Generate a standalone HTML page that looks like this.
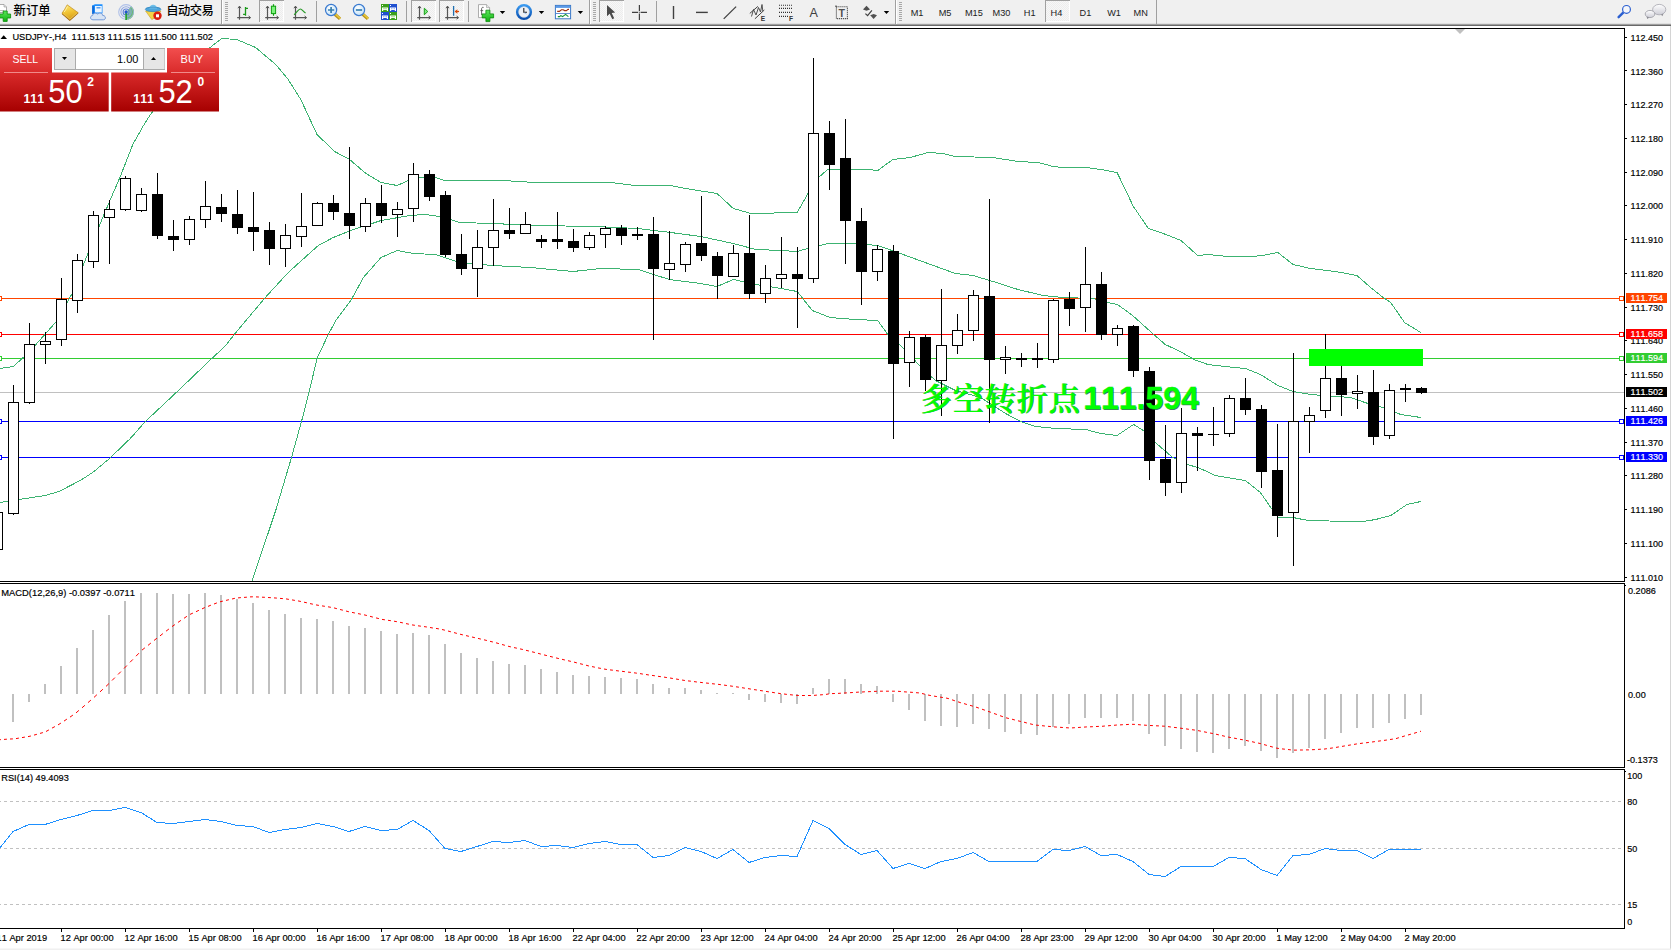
<!DOCTYPE html>
<html><head><meta charset="utf-8"><title>USDJPY-,H4</title>
<style>
html,body{margin:0;padding:0;background:#fff;overflow:hidden}
body{width:1671px;height:950px;position:relative;font-family:"Liberation Sans","Noto Sans CJK SC",sans-serif}
svg{position:absolute;left:0;top:0;display:block}
text{white-space:pre;font-kerning:none}
</style></head><body>
<svg width="1671" height="950" viewBox="0 0 1671 950" font-family="Liberation Sans, Noto Sans CJK SC, sans-serif">
<rect x="0" y="0" width="1671" height="950" fill="#fff"/>
<g id="chart"><g shape-rendering="crispEdges"><rect x="0" y="28" width="1625" height="1" fill="#000" /><rect x="1624" y="28" width="1" height="554" fill="#000" /><rect x="1624" y="583" width="1" height="185" fill="#000" /><rect x="1624" y="769" width="1" height="160" fill="#000" /><rect x="1625" y="585" width="1" height="1" fill="#000" /><rect x="1625" y="771" width="1" height="1" fill="#000" /><rect x="0" y="581" width="1625" height="1" fill="#000" /><rect x="0" y="583" width="1625" height="1" fill="#000" /><rect x="0" y="767" width="1625" height="1" fill="#000" /><rect x="0" y="769" width="1625" height="1" fill="#000" /><rect x="0" y="928" width="1625" height="1" fill="#000" /></g><defs><clipPath id="cm"><rect x="0" y="29" width="1624" height="552"/></clipPath><clipPath id="cmacd"><rect x="0" y="584" width="1624" height="183"/></clipPath></defs><g shape-rendering="crispEdges"><rect x="0" y="392" width="1624" height="1" fill="#C0C0C0" /><rect x="0" y="298" width="1624" height="1" fill="#FF4500" /><rect x="0" y="334" width="1624" height="1" fill="#FF0000" /><rect x="0" y="358" width="1624" height="1" fill="#32CD32" /><rect x="0" y="421" width="1624" height="1" fill="#0000FF" /><rect x="0" y="457" width="1624" height="1" fill="#0000FF" /></g><g clip-path="url(#cm)"><polyline points="-3.0,369.5 0.0,368.5 13.3,366.5 24.3,356.5 35.0,345.5 56.4,321.5 72.7,292.5 82.7,266.5 99.0,226.5 109.5,201.5 120.3,176.5 132.8,144.5 142.9,126.5 150.4,114.5 170.0,88.5 190.0,65.5 212.5,45.5 221.8,38.5 236.8,39.5 255.6,47.5 275.7,64.5 288.2,79.5 300.8,99.5 317.0,134.5 334.6,151.5 349.6,159.5 365.9,173.5 381.0,182.5 397.2,185.5 408.5,180.5 420.0,177.5 435.0,177.5 445.0,180.5 468.9,180.5 502.7,180.5 535.3,182.5 610.5,182.5 635.6,185.5 670.7,185.5 685.7,188.5 717.0,193.5 733.3,208.5 750.9,213.5 797.2,212.5 808.5,192.5 818.5,177.5 827.6,169.5 867.7,169.5 877.7,170.5 892.8,159.5 910.3,157.5 927.9,152.5 942.9,153.5 955.4,156.5 993.0,157.5 1018.1,161.5 1038.1,162.5 1053.2,166.5 1063.2,167.5 1087.0,167.5 1100.8,169.5 1117.1,172.5 1133.4,206.5 1148.4,228.5 1166.0,234.5 1181.0,240.5 1197.7,255.5 1207.8,254.5 1227.8,256.5 1250.4,256.5 1262.9,255.5 1277.9,252.5 1293.0,264.5 1310.5,268.5 1335.6,271.5 1356.9,275.5 1370.7,287.5 1383.2,297.5 1390.7,302.5 1404.5,322.5 1420.8,332.5" fill="none" stroke="#3CB371" stroke-width="1" shape-rendering="crispEdges"/><polyline points="-3.0,503.5 0.0,502.5 18.8,499.5 45.1,495.5 58.9,491.5 80.2,480.5 92.7,472.5 109.5,458.5 130.3,438.5 145.4,421.5 180.5,388.5 211.8,358.5 224.8,346.5 234.3,334.5 264.4,298.5 288.2,272.5 318.3,245.5 333.3,237.5 350.9,230.5 365.9,225.5 381.0,220.5 398.5,217.5 410.0,215.5 425.0,214.5 440.0,216.5 460.0,222.5 492.7,223.5 535.3,225.5 595.5,226.5 638.0,228.5 670.7,232.5 700.7,236.5 733.3,243.5 755.9,249.5 780.9,250.5 797.2,251.5 807.6,248.5 827.6,243.5 854.0,243.5 877.7,245.5 900.3,253.5 927.9,263.5 955.4,273.5 973.0,275.5 993.0,281.5 1018.0,289.5 1043.0,295.5 1063.2,297.5 1093.3,298.5 1107.5,302.5 1117.5,304.5 1132.6,315.5 1152.6,333.5 1165.2,344.5 1180.2,351.5 1194.0,359.5 1207.8,364.5 1225.3,366.5 1245.4,368.5 1260.4,374.5 1277.9,385.5 1293.0,391.5 1310.5,394.5 1350.6,397.5 1370.7,404.5 1383.2,407.5 1400.8,414.5 1420.8,417.5" fill="none" stroke="#3CB371" stroke-width="1" shape-rendering="crispEdges"/><polyline points="251.9,581.5 275.7,510.5 291.5,457.5 301.5,421.5 309.5,390.5 317.0,358.5 328.3,334.5 335.8,320.5 350.9,300.5 363.4,277.5 381.0,257.5 397.2,250.5 413.5,253.5 435.0,254.5 460.0,262.5 492.7,265.5 530.3,267.5 573.0,271.5 600.5,268.5 638.0,269.5 669.4,279.5 700.7,283.5 717.0,286.5 733.3,279.5 755.9,284.5 780.9,288.5 797.2,291.5 812.3,310.5 830.1,317.5 855.2,319.5 877.7,320.5 887.8,334.5 902.8,347.5 920.4,366.5 935.4,380.5 955.4,390.5 980.5,397.5 1005.6,413.5 1020.6,421.5 1035.6,426.5 1055.7,428.5 1085.8,429.5 1100.8,433.5 1117.1,435.5 1133.6,424.5 1145.1,431.5 1157.6,444.5 1172.7,457.5 1187.7,464.5 1200.3,468.5 1215.3,475.5 1245.4,480.5 1260.4,492.5 1272.9,510.5 1277.9,517.5 1293.0,517.5 1308.0,520.5 1350.6,521.5 1363.2,521.5 1375.7,519.5 1390.7,515.5 1407.0,504.5 1420.8,501.5" fill="none" stroke="#3CB371" stroke-width="1" shape-rendering="crispEdges"/></g><g shape-rendering="crispEdges" clip-path="url(#cm)"><rect x="-8" y="512" width="11" height="38" fill="#000" /><rect x="-7" y="513" width="9" height="36" fill="#fff" /><rect x="13" y="385" width="1" height="130" fill="#000" /><rect x="8" y="402" width="11" height="112" fill="#000" /><rect x="9" y="403" width="9" height="110" fill="#fff" /><rect x="29" y="323" width="1" height="81" fill="#000" /><rect x="24" y="344" width="11" height="59" fill="#000" /><rect x="25" y="345" width="9" height="57" fill="#fff" /><rect x="45" y="332" width="1" height="32" fill="#000" /><rect x="40" y="341" width="11" height="4" fill="#000" /><rect x="41" y="342" width="9" height="2" fill="#fff" /><rect x="61" y="278" width="1" height="68" fill="#000" /><rect x="56" y="299" width="11" height="41" fill="#000" /><rect x="57" y="300" width="9" height="39" fill="#fff" /><rect x="77" y="254" width="1" height="59" fill="#000" /><rect x="72" y="260" width="11" height="41" fill="#000" /><rect x="73" y="261" width="9" height="39" fill="#fff" /><rect x="93" y="211" width="1" height="57" fill="#000" /><rect x="88" y="215" width="11" height="47" fill="#000" /><rect x="89" y="216" width="9" height="45" fill="#fff" /><rect x="109" y="200" width="1" height="64" fill="#000" /><rect x="104" y="209" width="11" height="9" fill="#000" /><rect x="105" y="210" width="9" height="7" fill="#fff" /><rect x="125" y="176" width="1" height="35" fill="#000" /><rect x="120" y="178" width="11" height="32" fill="#000" /><rect x="121" y="179" width="9" height="30" fill="#fff" /><rect x="141" y="188" width="1" height="24" fill="#000" /><rect x="136" y="194" width="11" height="17" fill="#000" /><rect x="137" y="195" width="9" height="15" fill="#fff" /><rect x="157" y="173" width="1" height="66" fill="#000" /><rect x="152" y="194" width="11" height="42" fill="#000" /><rect x="173" y="220" width="1" height="31" fill="#000" /><rect x="168" y="236" width="11" height="4" fill="#000" /><rect x="189" y="216" width="1" height="29" fill="#000" /><rect x="184" y="219" width="11" height="21" fill="#000" /><rect x="185" y="220" width="9" height="19" fill="#fff" /><rect x="205" y="181" width="1" height="47" fill="#000" /><rect x="200" y="206" width="11" height="14" fill="#000" /><rect x="201" y="207" width="9" height="12" fill="#fff" /><rect x="221" y="194" width="1" height="28" fill="#000" /><rect x="216" y="207" width="11" height="7" fill="#000" /><rect x="237" y="190" width="1" height="44" fill="#000" /><rect x="232" y="214" width="11" height="14" fill="#000" /><rect x="253" y="192" width="1" height="59" fill="#000" /><rect x="248" y="227" width="11" height="5" fill="#000" /><rect x="269" y="222" width="1" height="43" fill="#000" /><rect x="264" y="230" width="11" height="19" fill="#000" /><rect x="285" y="224" width="1" height="43" fill="#000" /><rect x="280" y="235" width="11" height="14" fill="#000" /><rect x="281" y="236" width="9" height="12" fill="#fff" /><rect x="301" y="193" width="1" height="54" fill="#000" /><rect x="296" y="226" width="11" height="11" fill="#000" /><rect x="297" y="227" width="9" height="9" fill="#fff" /><rect x="317" y="202" width="1" height="24" fill="#000" /><rect x="312" y="203" width="11" height="23" fill="#000" /><rect x="313" y="204" width="9" height="21" fill="#fff" /><rect x="333" y="195" width="1" height="25" fill="#000" /><rect x="328" y="203" width="11" height="9" fill="#000" /><rect x="349" y="147" width="1" height="92" fill="#000" /><rect x="344" y="213" width="11" height="13" fill="#000" /><rect x="365" y="198" width="1" height="34" fill="#000" /><rect x="360" y="203" width="11" height="24" fill="#000" /><rect x="361" y="204" width="9" height="22" fill="#fff" /><rect x="381" y="185" width="1" height="38" fill="#000" /><rect x="376" y="203" width="11" height="13" fill="#000" /><rect x="397" y="202" width="1" height="35" fill="#000" /><rect x="392" y="209" width="11" height="6" fill="#000" /><rect x="393" y="210" width="9" height="4" fill="#fff" /><rect x="413" y="163" width="1" height="59" fill="#000" /><rect x="408" y="174" width="11" height="35" fill="#000" /><rect x="409" y="175" width="9" height="33" fill="#fff" /><rect x="429" y="170" width="1" height="31" fill="#000" /><rect x="424" y="174" width="11" height="23" fill="#000" /><rect x="445" y="191" width="1" height="66" fill="#000" /><rect x="440" y="195" width="11" height="60" fill="#000" /><rect x="461" y="234" width="1" height="41" fill="#000" /><rect x="456" y="254" width="11" height="15" fill="#000" /><rect x="477" y="230" width="1" height="67" fill="#000" /><rect x="472" y="247" width="11" height="22" fill="#000" /><rect x="473" y="248" width="9" height="20" fill="#fff" /><rect x="493" y="199" width="1" height="67" fill="#000" /><rect x="488" y="230" width="11" height="18" fill="#000" /><rect x="489" y="231" width="9" height="16" fill="#fff" /><rect x="509" y="208" width="1" height="31" fill="#000" /><rect x="504" y="230" width="11" height="4" fill="#000" /><rect x="525" y="212" width="1" height="22" fill="#000" /><rect x="520" y="224" width="11" height="10" fill="#000" /><rect x="521" y="225" width="9" height="8" fill="#fff" /><rect x="541" y="235" width="1" height="13" fill="#000" /><rect x="536" y="239" width="11" height="3" fill="#000" /><rect x="557" y="212" width="1" height="37" fill="#000" /><rect x="552" y="239" width="11" height="3" fill="#000" /><rect x="573" y="229" width="1" height="23" fill="#000" /><rect x="568" y="241" width="11" height="7" fill="#000" /><rect x="589" y="232" width="1" height="18" fill="#000" /><rect x="584" y="235" width="11" height="13" fill="#000" /><rect x="585" y="236" width="9" height="11" fill="#fff" /><rect x="605" y="226" width="1" height="22" fill="#000" /><rect x="600" y="228" width="11" height="7" fill="#000" /><rect x="601" y="229" width="9" height="5" fill="#fff" /><rect x="621" y="225" width="1" height="20" fill="#000" /><rect x="616" y="228" width="11" height="8" fill="#000" /><rect x="637" y="227" width="1" height="13" fill="#000" /><rect x="632" y="234" width="11" height="2" fill="#000" /><rect x="653" y="217" width="1" height="123" fill="#000" /><rect x="648" y="234" width="11" height="35" fill="#000" /><rect x="669" y="231" width="1" height="49" fill="#000" /><rect x="664" y="263" width="11" height="7" fill="#000" /><rect x="665" y="264" width="9" height="5" fill="#fff" /><rect x="685" y="242" width="1" height="30" fill="#000" /><rect x="680" y="244" width="11" height="21" fill="#000" /><rect x="681" y="245" width="9" height="19" fill="#fff" /><rect x="701" y="196" width="1" height="65" fill="#000" /><rect x="696" y="243" width="11" height="13" fill="#000" /><rect x="717" y="252" width="1" height="47" fill="#000" /><rect x="712" y="256" width="11" height="20" fill="#000" /><rect x="733" y="245" width="1" height="32" fill="#000" /><rect x="728" y="253" width="11" height="24" fill="#000" /><rect x="729" y="254" width="9" height="22" fill="#fff" /><rect x="749" y="215" width="1" height="84" fill="#000" /><rect x="744" y="253" width="11" height="41" fill="#000" /><rect x="765" y="265" width="1" height="38" fill="#000" /><rect x="760" y="278" width="11" height="16" fill="#000" /><rect x="761" y="279" width="9" height="14" fill="#fff" /><rect x="781" y="237" width="1" height="51" fill="#000" /><rect x="776" y="274" width="11" height="5" fill="#000" /><rect x="777" y="275" width="9" height="3" fill="#fff" /><rect x="797" y="247" width="1" height="81" fill="#000" /><rect x="792" y="274" width="11" height="5" fill="#000" /><rect x="813" y="58" width="1" height="225" fill="#000" /><rect x="808" y="133" width="11" height="146" fill="#000" /><rect x="809" y="134" width="9" height="144" fill="#fff" /><rect x="829" y="121" width="1" height="69" fill="#000" /><rect x="824" y="133" width="11" height="32" fill="#000" /><rect x="845" y="119" width="1" height="145" fill="#000" /><rect x="840" y="158" width="11" height="63" fill="#000" /><rect x="861" y="208" width="1" height="97" fill="#000" /><rect x="856" y="221" width="11" height="51" fill="#000" /><rect x="877" y="245" width="1" height="36" fill="#000" /><rect x="872" y="249" width="11" height="23" fill="#000" /><rect x="873" y="250" width="9" height="21" fill="#fff" /><rect x="893" y="245" width="1" height="194" fill="#000" /><rect x="888" y="251" width="11" height="113" fill="#000" /><rect x="909" y="331" width="1" height="56" fill="#000" /><rect x="904" y="337" width="11" height="26" fill="#000" /><rect x="905" y="338" width="9" height="24" fill="#fff" /><rect x="925" y="335" width="1" height="56" fill="#000" /><rect x="920" y="337" width="11" height="43" fill="#000" /><rect x="941" y="289" width="1" height="127" fill="#000" /><rect x="936" y="345" width="11" height="36" fill="#000" /><rect x="937" y="346" width="9" height="34" fill="#fff" /><rect x="957" y="314" width="1" height="40" fill="#000" /><rect x="952" y="330" width="11" height="16" fill="#000" /><rect x="953" y="331" width="9" height="14" fill="#fff" /><rect x="973" y="290" width="1" height="51" fill="#000" /><rect x="968" y="295" width="11" height="36" fill="#000" /><rect x="969" y="296" width="9" height="34" fill="#fff" /><rect x="989" y="199" width="1" height="224" fill="#000" /><rect x="984" y="296" width="11" height="64" fill="#000" /><rect x="1005" y="346" width="1" height="28" fill="#000" /><rect x="1000" y="357" width="11" height="3" fill="#000" /><rect x="1001" y="358" width="9" height="1" fill="#fff" /><rect x="1021" y="353" width="1" height="14" fill="#000" /><rect x="1016" y="358" width="11" height="2" fill="#000" /><rect x="1037" y="343" width="1" height="25" fill="#000" /><rect x="1032" y="358" width="11" height="2" fill="#000" /><rect x="1053" y="299" width="1" height="64" fill="#000" /><rect x="1048" y="300" width="11" height="60" fill="#000" /><rect x="1049" y="301" width="9" height="58" fill="#fff" /><rect x="1069" y="292" width="1" height="34" fill="#000" /><rect x="1064" y="299" width="11" height="10" fill="#000" /><rect x="1085" y="247" width="1" height="85" fill="#000" /><rect x="1080" y="284" width="11" height="24" fill="#000" /><rect x="1081" y="285" width="9" height="22" fill="#fff" /><rect x="1101" y="272" width="1" height="68" fill="#000" /><rect x="1096" y="284" width="11" height="51" fill="#000" /><rect x="1117" y="325" width="1" height="21" fill="#000" /><rect x="1112" y="328" width="11" height="7" fill="#000" /><rect x="1113" y="329" width="9" height="5" fill="#fff" /><rect x="1133" y="325" width="1" height="52" fill="#000" /><rect x="1128" y="326" width="11" height="45" fill="#000" /><rect x="1149" y="367" width="1" height="113" fill="#000" /><rect x="1144" y="371" width="11" height="90" fill="#000" /><rect x="1165" y="425" width="1" height="71" fill="#000" /><rect x="1160" y="459" width="11" height="24" fill="#000" /><rect x="1181" y="408" width="1" height="85" fill="#000" /><rect x="1176" y="433" width="11" height="50" fill="#000" /><rect x="1177" y="434" width="9" height="48" fill="#fff" /><rect x="1197" y="427" width="1" height="44" fill="#000" /><rect x="1192" y="433" width="11" height="3" fill="#000" /><rect x="1213" y="407" width="1" height="39" fill="#000" /><rect x="1208" y="434" width="11" height="1" fill="#000" /><rect x="1229" y="395" width="1" height="42" fill="#000" /><rect x="1224" y="398" width="11" height="36" fill="#000" /><rect x="1225" y="399" width="9" height="34" fill="#fff" /><rect x="1245" y="378" width="1" height="37" fill="#000" /><rect x="1240" y="398" width="11" height="12" fill="#000" /><rect x="1261" y="405" width="1" height="83" fill="#000" /><rect x="1256" y="409" width="11" height="63" fill="#000" /><rect x="1277" y="424" width="1" height="113" fill="#000" /><rect x="1272" y="470" width="11" height="46" fill="#000" /><rect x="1293" y="353" width="1" height="213" fill="#000" /><rect x="1288" y="421" width="11" height="92" fill="#000" /><rect x="1289" y="422" width="9" height="90" fill="#fff" /><rect x="1309" y="407" width="1" height="46" fill="#000" /><rect x="1304" y="415" width="11" height="7" fill="#000" /><rect x="1305" y="416" width="9" height="5" fill="#fff" /><rect x="1325" y="334" width="1" height="84" fill="#000" /><rect x="1320" y="378" width="11" height="33" fill="#000" /><rect x="1321" y="379" width="9" height="31" fill="#fff" /><rect x="1341" y="366" width="1" height="50" fill="#000" /><rect x="1336" y="378" width="11" height="17" fill="#000" /><rect x="1357" y="375" width="1" height="34" fill="#000" /><rect x="1352" y="391" width="11" height="3" fill="#000" /><rect x="1353" y="392" width="9" height="1" fill="#fff" /><rect x="1373" y="370" width="1" height="75" fill="#000" /><rect x="1368" y="392" width="11" height="45" fill="#000" /><rect x="1389" y="384" width="1" height="55" fill="#000" /><rect x="1384" y="390" width="11" height="46" fill="#000" /><rect x="1385" y="391" width="9" height="44" fill="#fff" /><rect x="1405" y="384" width="1" height="18" fill="#000" /><rect x="1400" y="388" width="11" height="2" fill="#000" /><rect x="1421" y="387" width="1" height="7" fill="#000" /><rect x="1416" y="388" width="11" height="5" fill="#000" /></g><g shape-rendering="crispEdges"><rect x="-2.5" y="296.5" width="4" height="4" fill="#fff" stroke="#FF4500" stroke-width="1"/><rect x="1619.5" y="296.5" width="4" height="4" fill="#fff" stroke="#FF4500" stroke-width="1"/><rect x="-2.5" y="332.5" width="4" height="4" fill="#fff" stroke="#FF0000" stroke-width="1"/><rect x="1619.5" y="332.5" width="4" height="4" fill="#fff" stroke="#FF0000" stroke-width="1"/><rect x="-2.5" y="356.5" width="4" height="4" fill="#fff" stroke="#32CD32" stroke-width="1"/><rect x="1619.5" y="356.5" width="4" height="4" fill="#fff" stroke="#32CD32" stroke-width="1"/><rect x="-2.5" y="419.5" width="4" height="4" fill="#fff" stroke="#0000FF" stroke-width="1"/><rect x="1619.5" y="419.5" width="4" height="4" fill="#fff" stroke="#0000FF" stroke-width="1"/><rect x="-2.5" y="455.5" width="4" height="4" fill="#fff" stroke="#0000FF" stroke-width="1"/><rect x="1619.5" y="455.5" width="4" height="4" fill="#fff" stroke="#0000FF" stroke-width="1"/></g><rect x="1309" y="349" width="114" height="17" fill="#00FF00" shape-rendering="crispEdges"/><g font-weight="600" font-family="Noto Serif CJK SC, serif" font-size="31" letter-spacing="1"><text x="921.5" y="410.3" fill="#0A5A2A" opacity="0.75">多空转折点</text><text x="920.8" y="409.6" fill="#00FF00" stroke="#08C408" stroke-width="0.4" style="paint-order:stroke">多空转折点</text></g><g font-weight="bold" font-family="Liberation Sans, sans-serif" font-size="32"><text x="1083.9" y="409.5" fill="#0A4A3A" opacity="0.75">111.594</text><text x="1083.2" y="408.8" fill="#00FF00" stroke="#08C408" stroke-width="0.4" style="paint-order:stroke">111.594</text></g><polygon points="1455,29 1465,29 1460,34" fill="#C0C0C0"/><g font-family="Liberation Sans, sans-serif" font-size="9" fill="#000"><rect x="1625" y="37" width="2" height="1" fill="#000" shape-rendering="crispEdges"/><text x="1630.5" y="40.7" font-size="9.4" fill="#000" stroke="#000" stroke-width="0.18" textLength="32.6" lengthAdjust="spacingAndGlyphs">112.450</text><rect x="1625" y="70" width="2" height="1" fill="#000" shape-rendering="crispEdges"/><text x="1630.5" y="74.5" font-size="9.4" fill="#000" stroke="#000" stroke-width="0.18" textLength="32.6" lengthAdjust="spacingAndGlyphs">112.360</text><rect x="1625" y="104" width="2" height="1" fill="#000" shape-rendering="crispEdges"/><text x="1630.5" y="108.2" font-size="9.4" fill="#000" stroke="#000" stroke-width="0.18" textLength="32.6" lengthAdjust="spacingAndGlyphs">112.270</text><rect x="1625" y="138" width="2" height="1" fill="#000" shape-rendering="crispEdges"/><text x="1630.5" y="141.9" font-size="9.4" fill="#000" stroke="#000" stroke-width="0.18" textLength="32.6" lengthAdjust="spacingAndGlyphs">112.180</text><rect x="1625" y="172" width="2" height="1" fill="#000" shape-rendering="crispEdges"/><text x="1630.5" y="175.7" font-size="9.4" fill="#000" stroke="#000" stroke-width="0.18" textLength="32.6" lengthAdjust="spacingAndGlyphs">112.090</text><rect x="1625" y="205" width="2" height="1" fill="#000" shape-rendering="crispEdges"/><text x="1630.5" y="209.4" font-size="9.4" fill="#000" stroke="#000" stroke-width="0.18" textLength="32.6" lengthAdjust="spacingAndGlyphs">112.000</text><rect x="1625" y="239" width="2" height="1" fill="#000" shape-rendering="crispEdges"/><text x="1630.5" y="243.2" font-size="9.4" fill="#000" stroke="#000" stroke-width="0.18" textLength="32.6" lengthAdjust="spacingAndGlyphs">111.910</text><rect x="1625" y="273" width="2" height="1" fill="#000" shape-rendering="crispEdges"/><text x="1630.5" y="276.9" font-size="9.4" fill="#000" stroke="#000" stroke-width="0.18" textLength="32.6" lengthAdjust="spacingAndGlyphs">111.820</text><rect x="1625" y="307" width="2" height="1" fill="#000" shape-rendering="crispEdges"/><text x="1630.5" y="310.7" font-size="9.4" fill="#000" stroke="#000" stroke-width="0.18" textLength="32.6" lengthAdjust="spacingAndGlyphs">111.730</text><rect x="1625" y="340" width="2" height="1" fill="#000" shape-rendering="crispEdges"/><text x="1630.5" y="344.4" font-size="9.4" fill="#000" stroke="#000" stroke-width="0.18" textLength="32.6" lengthAdjust="spacingAndGlyphs">111.640</text><rect x="1625" y="374" width="2" height="1" fill="#000" shape-rendering="crispEdges"/><text x="1630.5" y="378.2" font-size="9.4" fill="#000" stroke="#000" stroke-width="0.18" textLength="32.6" lengthAdjust="spacingAndGlyphs">111.550</text><rect x="1625" y="408" width="2" height="1" fill="#000" shape-rendering="crispEdges"/><text x="1630.5" y="411.9" font-size="9.4" fill="#000" stroke="#000" stroke-width="0.18" textLength="32.6" lengthAdjust="spacingAndGlyphs">111.460</text><rect x="1625" y="442" width="2" height="1" fill="#000" shape-rendering="crispEdges"/><text x="1630.5" y="445.7" font-size="9.4" fill="#000" stroke="#000" stroke-width="0.18" textLength="32.6" lengthAdjust="spacingAndGlyphs">111.370</text><rect x="1625" y="475" width="2" height="1" fill="#000" shape-rendering="crispEdges"/><text x="1630.5" y="479.4" font-size="9.4" fill="#000" stroke="#000" stroke-width="0.18" textLength="32.6" lengthAdjust="spacingAndGlyphs">111.280</text><rect x="1625" y="509" width="2" height="1" fill="#000" shape-rendering="crispEdges"/><text x="1630.5" y="513.2" font-size="9.4" fill="#000" stroke="#000" stroke-width="0.18" textLength="32.6" lengthAdjust="spacingAndGlyphs">111.190</text><rect x="1625" y="543" width="2" height="1" fill="#000" shape-rendering="crispEdges"/><text x="1630.5" y="547.0" font-size="9.4" fill="#000" stroke="#000" stroke-width="0.18" textLength="32.6" lengthAdjust="spacingAndGlyphs">111.100</text><rect x="1625" y="577" width="2" height="1" fill="#000" shape-rendering="crispEdges"/><text x="1630.5" y="580.7" font-size="9.4" fill="#000" stroke="#000" stroke-width="0.18" textLength="32.6" lengthAdjust="spacingAndGlyphs">111.010</text></g><g font-family="Liberation Sans, sans-serif" font-size="9" fill="#fff"><rect x="1626" y="293" width="41" height="10" fill="#FF4500" shape-rendering="crispEdges"/><text x="1630.5" y="301.0" font-size="9.4" fill="#fff" stroke="#fff" stroke-width="0.18" textLength="32.6" lengthAdjust="spacingAndGlyphs">111.754</text><rect x="1626" y="329" width="41" height="10" fill="#FF0000" shape-rendering="crispEdges"/><text x="1630.5" y="337.0" font-size="9.4" fill="#fff" stroke="#fff" stroke-width="0.18" textLength="32.6" lengthAdjust="spacingAndGlyphs">111.658</text><rect x="1626" y="353" width="41" height="10" fill="#32CD32" shape-rendering="crispEdges"/><text x="1630.5" y="361.0" font-size="9.4" fill="#fff" stroke="#fff" stroke-width="0.18" textLength="32.6" lengthAdjust="spacingAndGlyphs">111.594</text><rect x="1626" y="416" width="41" height="10" fill="#0000FF" shape-rendering="crispEdges"/><text x="1630.5" y="424.0" font-size="9.4" fill="#fff" stroke="#fff" stroke-width="0.18" textLength="32.6" lengthAdjust="spacingAndGlyphs">111.426</text><rect x="1626" y="452" width="41" height="10" fill="#0000FF" shape-rendering="crispEdges"/><text x="1630.5" y="460.0" font-size="9.4" fill="#fff" stroke="#fff" stroke-width="0.18" textLength="32.6" lengthAdjust="spacingAndGlyphs">111.330</text><rect x="1626" y="387" width="41" height="10" fill="#000000" shape-rendering="crispEdges"/><text x="1630.5" y="395.0" font-size="9.4" fill="#fff" stroke="#fff" stroke-width="0.18" textLength="32.6" lengthAdjust="spacingAndGlyphs">111.502</text></g><g font-family="Liberation Sans, sans-serif" font-size="9" fill="#000"><polygon points="0.5,39 7,39 3.7,35.3" fill="#000"/><text x="12.4" y="39.7" font-size="9.4" fill="#000" stroke="#000" stroke-width="0.18" textLength="200.6" lengthAdjust="spacingAndGlyphs">USDJPY-,H4&#160; 111.513 111.515 111.500 111.502</text></g><g shape-rendering="crispEdges" clip-path="url(#cmacd)"><rect x="12" y="694" width="2" height="28" fill="#C0C0C0" /><rect x="28" y="694" width="2" height="8" fill="#C0C0C0" /><rect x="44" y="684" width="2" height="10" fill="#C0C0C0" /><rect x="60" y="666" width="2" height="28" fill="#C0C0C0" /><rect x="76" y="648" width="2" height="46" fill="#C0C0C0" /><rect x="92" y="630" width="2" height="64" fill="#C0C0C0" /><rect x="108" y="615" width="2" height="79" fill="#C0C0C0" /><rect x="124" y="601" width="2" height="93" fill="#C0C0C0" /><rect x="140" y="593" width="2" height="101" fill="#C0C0C0" /><rect x="156" y="593" width="2" height="101" fill="#C0C0C0" /><rect x="172" y="594" width="2" height="100" fill="#C0C0C0" /><rect x="188" y="594" width="2" height="100" fill="#C0C0C0" /><rect x="204" y="593" width="2" height="101" fill="#C0C0C0" /><rect x="220" y="595" width="2" height="99" fill="#C0C0C0" /><rect x="236" y="599" width="2" height="95" fill="#C0C0C0" /><rect x="252" y="603" width="2" height="91" fill="#C0C0C0" /><rect x="268" y="610" width="2" height="84" fill="#C0C0C0" /><rect x="284" y="614" width="2" height="80" fill="#C0C0C0" /><rect x="300" y="618" width="2" height="76" fill="#C0C0C0" /><rect x="316" y="619" width="2" height="75" fill="#C0C0C0" /><rect x="332" y="621" width="2" height="73" fill="#C0C0C0" /><rect x="348" y="626" width="2" height="68" fill="#C0C0C0" /><rect x="364" y="628" width="2" height="66" fill="#C0C0C0" /><rect x="380" y="631" width="2" height="63" fill="#C0C0C0" /><rect x="396" y="634" width="2" height="60" fill="#C0C0C0" /><rect x="412" y="633" width="2" height="61" fill="#C0C0C0" /><rect x="428" y="635" width="2" height="59" fill="#C0C0C0" /><rect x="444" y="644" width="2" height="50" fill="#C0C0C0" /><rect x="460" y="653" width="2" height="41" fill="#C0C0C0" /><rect x="476" y="658" width="2" height="36" fill="#C0C0C0" /><rect x="492" y="661" width="2" height="33" fill="#C0C0C0" /><rect x="508" y="664" width="2" height="30" fill="#C0C0C0" /><rect x="524" y="665" width="2" height="29" fill="#C0C0C0" /><rect x="540" y="669" width="2" height="25" fill="#C0C0C0" /><rect x="556" y="672" width="2" height="22" fill="#C0C0C0" /><rect x="572" y="675" width="2" height="19" fill="#C0C0C0" /><rect x="588" y="676" width="2" height="18" fill="#C0C0C0" /><rect x="604" y="677" width="2" height="17" fill="#C0C0C0" /><rect x="620" y="678" width="2" height="16" fill="#C0C0C0" /><rect x="636" y="679" width="2" height="15" fill="#C0C0C0" /><rect x="652" y="684" width="2" height="10" fill="#C0C0C0" /><rect x="668" y="688" width="2" height="6" fill="#C0C0C0" /><rect x="684" y="688" width="2" height="6" fill="#C0C0C0" /><rect x="700" y="690" width="2" height="4" fill="#C0C0C0" /><rect x="716" y="693" width="2" height="1" fill="#C0C0C0" /><rect x="732" y="693" width="2" height="1" fill="#C0C0C0" /><rect x="748" y="694" width="2" height="6" fill="#C0C0C0" /><rect x="764" y="694" width="2" height="8" fill="#C0C0C0" /><rect x="780" y="694" width="2" height="9" fill="#C0C0C0" /><rect x="796" y="694" width="2" height="10" fill="#C0C0C0" /><rect x="812" y="688" width="2" height="6" fill="#C0C0C0" /><rect x="828" y="679" width="2" height="15" fill="#C0C0C0" /><rect x="844" y="679" width="2" height="15" fill="#C0C0C0" /><rect x="860" y="684" width="2" height="10" fill="#C0C0C0" /><rect x="876" y="686" width="2" height="8" fill="#C0C0C0" /><rect x="892" y="694" width="2" height="8" fill="#C0C0C0" /><rect x="908" y="694" width="2" height="16" fill="#C0C0C0" /><rect x="924" y="694" width="2" height="27" fill="#C0C0C0" /><rect x="940" y="694" width="2" height="32" fill="#C0C0C0" /><rect x="956" y="694" width="2" height="33" fill="#C0C0C0" /><rect x="972" y="694" width="2" height="30" fill="#C0C0C0" /><rect x="988" y="694" width="2" height="35" fill="#C0C0C0" /><rect x="1004" y="694" width="2" height="38" fill="#C0C0C0" /><rect x="1020" y="694" width="2" height="40" fill="#C0C0C0" /><rect x="1036" y="694" width="2" height="41" fill="#C0C0C0" /><rect x="1052" y="694" width="2" height="33" fill="#C0C0C0" /><rect x="1068" y="694" width="2" height="30" fill="#C0C0C0" /><rect x="1084" y="694" width="2" height="24" fill="#C0C0C0" /><rect x="1100" y="694" width="2" height="24" fill="#C0C0C0" /><rect x="1116" y="694" width="2" height="24" fill="#C0C0C0" /><rect x="1132" y="694" width="2" height="27" fill="#C0C0C0" /><rect x="1148" y="694" width="2" height="40" fill="#C0C0C0" /><rect x="1164" y="694" width="2" height="52" fill="#C0C0C0" /><rect x="1180" y="694" width="2" height="55" fill="#C0C0C0" /><rect x="1196" y="694" width="2" height="58" fill="#C0C0C0" /><rect x="1212" y="694" width="2" height="59" fill="#C0C0C0" /><rect x="1228" y="694" width="2" height="55" fill="#C0C0C0" /><rect x="1244" y="694" width="2" height="52" fill="#C0C0C0" /><rect x="1260" y="694" width="2" height="57" fill="#C0C0C0" /><rect x="1276" y="694" width="2" height="64" fill="#C0C0C0" /><rect x="1292" y="694" width="2" height="59" fill="#C0C0C0" /><rect x="1308" y="694" width="2" height="54" fill="#C0C0C0" /><rect x="1324" y="694" width="2" height="45" fill="#C0C0C0" /><rect x="1340" y="694" width="2" height="39" fill="#C0C0C0" /><rect x="1356" y="694" width="2" height="34" fill="#C0C0C0" /><rect x="1372" y="694" width="2" height="34" fill="#C0C0C0" /><rect x="1388" y="694" width="2" height="29" fill="#C0C0C0" /><rect x="1404" y="694" width="2" height="25" fill="#C0C0C0" /><rect x="1420" y="694" width="2" height="21" fill="#C0C0C0" /></g><path d="M-2.0,739.9L0.9,739.6M4.0,739.4L6.9,739.2M10.0,739.0L12.9,738.9M16.0,738.6L18.9,738.1M22.0,737.6L24.9,737.1M28.0,736.6L30.9,736.0M34.0,735.1L36.9,734.3M40.0,733.4L42.9,732.6M46.0,731.5L48.9,729.9M52.0,728.1L54.9,726.6M58.0,724.9L60.9,723.1M64.0,721.1L66.9,719.1M70.0,717.1L72.9,715.1M76.0,712.9L78.9,710.4M82.0,707.8L84.9,705.3M88.0,702.6L90.9,700.1M94.0,697.4L96.9,694.7M100.0,691.9L102.9,689.2M106.0,686.4L108.9,683.6M112.0,680.5L114.9,677.6M118.0,674.5L120.9,671.6M124.0,668.5L126.9,665.5M130.0,662.3L132.9,659.4M136.0,656.2L138.9,653.2M142.0,650.1L144.9,647.8M148.0,645.4L150.9,643.0M154.0,640.5L156.9,638.2M160.0,635.9L162.9,633.6M166.0,631.2L168.9,629.0M172.0,626.6L174.9,624.6M178.0,622.4L180.9,620.4M184.0,618.3L186.9,616.3M190.0,614.4L192.9,613.1M196.0,611.7L198.9,610.3M202.0,608.9L204.9,607.5M208.0,606.4L210.9,605.2M214.0,604.0L216.9,602.9M220.0,601.8L222.9,601.1M226.0,600.4L228.9,599.7M232.0,599.0L234.9,598.3M238.0,597.9L240.9,597.6M244.0,597.4L246.9,597.2M250.0,596.9L252.9,596.8M256.0,596.9L258.9,597.0M262.0,597.2L264.9,597.3M268.0,597.5L270.9,597.7M274.0,597.9L276.9,598.1M280.0,598.4L282.9,598.6M286.0,598.9L288.9,599.4M292.0,599.9L294.9,600.4M298.0,600.9L300.9,601.5M304.0,602.2L306.9,602.8M310.0,603.6L312.9,604.2M316.0,604.9L318.9,605.4M322.0,605.9L324.9,606.3M328.0,606.8L330.9,607.3M334.0,607.9L336.9,608.7M340.0,609.5L342.9,610.2M346.0,611.0L348.9,611.8M352.0,612.4L354.9,613.0M358.0,613.6L360.9,614.2M364.0,614.8L366.9,615.5M370.0,616.3L372.9,617.1M376.0,617.9L378.9,618.6M382.0,619.4L384.9,619.8M388.0,620.3L390.9,620.7M394.0,621.2L396.9,621.7M400.0,622.3L402.9,622.9M406.0,623.6L408.9,624.2M412.0,624.9L414.9,625.3M418.0,625.8L420.9,626.2M424.0,626.6L426.9,627.0M430.0,627.5L432.9,628.0M436.0,628.4L438.9,628.9M442.0,629.5L444.9,630.2M448.0,631.0L450.9,631.8M454.0,632.6L456.9,633.4M460.0,634.2L462.9,634.9M466.0,635.6L468.9,636.3M472.0,637.0L474.9,637.7M478.0,638.4L480.9,639.1M484.0,639.8L486.9,640.5M490.0,641.3L492.9,642.0M496.0,642.8L498.9,643.6M502.0,644.5L504.9,645.3M508.0,646.2L510.9,646.9M514.0,647.6L516.9,648.2M520.0,648.9L522.9,649.5M526.0,650.3L528.9,651.0M532.0,651.8L534.9,652.5M538.0,653.3L540.9,654.1M544.0,654.9L546.9,655.6M550.0,656.4L552.9,657.1M556.0,657.9L558.9,658.6M562.0,659.3L564.9,660.0M568.0,660.7L570.9,661.4M574.0,662.1L576.9,662.9M580.0,663.7L582.9,664.4M586.0,665.2L588.9,666.0M592.0,666.6L594.9,667.2M598.0,667.9L600.9,668.4M604.0,669.0L606.9,669.5M610.0,669.9L612.9,670.2M616.0,670.6L618.9,671.0M622.0,671.3L624.9,671.7M628.0,672.1L630.9,672.4M634.0,672.8L636.9,673.2M640.0,673.6L642.9,674.1M646.0,674.5L648.9,675.0M652.0,675.4L654.9,675.8M658.0,676.3L660.9,676.7M664.0,677.1L666.9,677.6M670.0,678.0L672.9,678.5M676.0,679.0L678.9,679.5M682.0,680.0L684.9,680.5M688.0,680.9L690.9,681.2M694.0,681.6L696.9,682.0M700.0,682.3L702.9,682.7M706.0,683.0L708.9,683.3M712.0,683.7L714.9,684.0M718.0,684.3L720.9,684.7M724.0,685.1L726.9,685.5M730.0,685.9L732.9,686.3M736.0,686.8L738.9,687.2M742.0,687.7L744.9,688.2M748.0,688.6L750.9,689.1M754.0,689.6L756.9,690.0M760.0,690.5L762.9,690.9M766.0,691.4L768.9,691.9M772.0,692.3L774.9,692.8M778.0,693.2L780.9,693.7M784.0,694.0L786.9,694.4M790.0,694.7L792.9,695.0M796.0,695.3L798.9,695.5M802.0,695.5L804.9,695.5M808.0,695.5L810.9,695.5M814.0,695.4L816.9,695.1M820.0,694.9L822.9,694.7M826.0,694.4L828.9,693.9M832.0,693.6L834.9,693.5M838.0,693.4L840.9,693.2M844.0,693.0L846.9,692.9M850.0,692.7L852.9,692.5M856.0,692.3L858.9,692.1M862.0,692.0L864.9,691.8M868.0,691.7L870.9,691.6M874.0,691.4L876.9,691.3M880.0,691.2L882.9,691.2M886.0,691.2L888.9,691.2M892.0,691.2L894.9,691.2M898.0,691.3L900.9,691.5M904.0,691.8L906.9,692.0M910.0,692.2L912.9,692.4M916.0,692.7L918.9,692.9M922.0,693.5L924.9,694.2M928.0,695.0L930.9,695.6M934.0,696.1L936.9,696.6M940.0,697.1L942.9,697.5M946.0,698.0L948.9,698.7M952.0,699.8L954.9,700.8M958.0,701.8L960.9,702.8M964.0,703.6L966.9,704.5M970.0,705.3L972.9,706.2M976.0,707.1L978.9,708.1M982.0,709.2L984.9,710.2M988.0,711.3L990.9,712.3M994.0,713.5L996.9,714.5M1000.0,715.7L1002.9,716.7M1006.0,717.8L1008.9,718.5M1012.0,719.2L1014.9,720.0M1018.0,720.8L1020.9,721.5M1024.0,722.2L1026.9,723.0M1030.0,723.8L1032.9,724.5M1036.0,725.1L1038.9,725.4M1042.0,725.7L1044.9,726.0M1048.0,726.3L1050.9,726.6M1054.0,726.9L1056.9,727.1M1060.0,727.3L1062.9,727.5M1066.0,727.7L1068.9,727.9M1072.0,727.9L1074.9,727.7M1078.0,727.5L1080.9,727.3M1084.0,727.1L1086.9,726.9M1090.0,726.8L1092.9,726.7M1096.0,726.5L1098.9,726.4M1102.0,726.3L1104.9,726.0M1108.0,725.8L1110.9,725.5M1114.0,725.3L1116.9,725.0M1120.0,724.9L1122.9,724.7M1126.0,724.6L1128.9,724.4M1132.0,724.3L1134.9,724.4M1138.0,724.6L1140.9,724.9M1144.0,725.1L1146.9,725.3M1150.0,725.5L1152.9,725.6M1156.0,725.8L1158.9,725.9M1162.0,726.1L1164.9,726.2M1168.0,726.6L1170.9,727.0M1174.0,727.4L1176.9,727.7M1180.0,728.1L1182.9,728.5M1186.0,728.9L1188.9,729.3M1192.0,729.7L1194.9,730.1M1198.0,730.6L1200.9,731.2M1204.0,731.8L1206.9,732.4M1210.0,733.0L1212.9,733.5M1216.0,734.2L1218.9,734.9M1222.0,735.6L1224.9,736.3M1228.0,737.0L1230.9,737.6M1234.0,738.1L1236.9,738.7M1240.0,739.3L1242.9,739.8M1246.0,740.4L1248.9,741.1M1252.0,741.7L1254.9,742.4M1258.0,743.0L1260.9,743.7M1264.0,744.6L1266.9,745.4M1270.0,746.3L1272.9,747.1M1276.0,748.0L1278.9,748.5M1282.0,748.9L1284.9,749.2M1288.0,749.5L1290.9,749.9M1294.0,750.1L1296.9,750.1M1300.0,750.0L1302.9,750.0M1306.0,749.9L1308.9,749.9M1312.0,749.7L1314.9,749.6M1318.0,749.4L1320.9,749.2M1324.0,749.1L1326.9,748.7M1330.0,748.3L1332.9,747.9M1336.0,747.4L1338.9,746.9M1342.0,746.4L1344.9,745.9M1348.0,745.4L1350.9,744.9M1354.0,744.4L1356.9,743.9M1360.0,743.5L1362.9,743.1M1366.0,742.8L1368.9,742.4M1372.0,742.0L1374.9,741.6M1378.0,741.2L1380.9,740.8M1384.0,740.4L1386.9,740.0M1390.0,739.5L1392.9,739.1M1396.0,738.6L1398.9,737.7M1402.0,736.8L1404.9,735.9M1408.0,735.0L1410.9,734.2M1414.0,733.3L1416.9,732.4M1420.0,731.5L1421.0,731.2" stroke="#FF0000" stroke-width="1" fill="none" clip-path="url(#cmacd)"/><g font-family="Liberation Sans, sans-serif" font-size="9" fill="#000"><text x="1.3" y="595.7" font-size="9.4" fill="#000" stroke="#000" stroke-width="0.18" textLength="133.7" lengthAdjust="spacingAndGlyphs">MACD(12,26,9) -0.0397 -0.0711</text><text transform="translate(1628,594.1) scale(0.968,1)" font-size="9.4" fill="#000" stroke="#000" stroke-width="0.18" >0.2086</text><text transform="translate(1628,697.7) scale(0.968,1)" font-size="9.4" fill="#000" stroke="#000" stroke-width="0.18" >0.00</text><text transform="translate(1627,762.7) scale(0.968,1)" font-size="9.4" fill="#000" stroke="#000" stroke-width="0.18" >-0.1373</text></g><g shape-rendering="crispEdges"><line x1="0" y1="801.5" x2="1624" y2="801.5" stroke="#C0C0C0" stroke-width="1" stroke-dasharray="3,3" stroke-dashoffset="2"/><line x1="0" y1="848.5" x2="1624" y2="848.5" stroke="#C0C0C0" stroke-width="1" stroke-dasharray="3,3" stroke-dashoffset="2"/><line x1="0" y1="904.5" x2="1624" y2="904.5" stroke="#C0C0C0" stroke-width="1" stroke-dasharray="3,3" stroke-dashoffset="2"/></g><polyline points="-3.0,851.5 13.0,831.5 29.0,824.5 45.0,824.5 61.0,819.5 77.0,815.5 93.0,810.5 109.0,810.5 125.0,807.5 141.0,812.5 157.0,822.5 173.0,823.5 189.0,821.5 205.0,819.5 221.0,821.5 237.0,825.5 253.0,826.5 269.0,832.5 285.0,829.5 301.0,827.5 317.0,823.5 333.0,826.5 349.0,831.5 365.0,826.5 381.0,830.5 397.0,829.5 413.0,820.5 429.0,830.5 445.0,848.5 461.0,851.5 477.0,846.5 493.0,841.5 509.0,842.5 525.0,840.5 541.0,846.5 557.0,845.5 573.0,847.5 589.0,843.5 605.0,841.5 621.0,844.5 637.0,844.5 653.0,857.5 669.0,855.5 685.0,847.5 701.0,851.5 717.0,858.5 733.0,849.5 749.0,862.5 765.0,857.5 781.0,855.5 797.0,856.5 813.0,820.5 829.0,828.5 845.0,844.5 861.0,854.5 877.0,850.5 893.0,868.5 909.0,863.5 925.0,868.5 941.0,861.5 957.0,858.5 973.0,852.5 989.0,861.5 1005.0,861.5 1021.0,861.5 1037.0,861.5 1053.0,849.5 1069.0,850.5 1085.0,846.5 1101.0,855.5 1117.0,854.5 1133.0,861.5 1149.0,874.5 1165.0,876.5 1181.0,866.5 1197.0,866.5 1213.0,866.5 1229.0,857.5 1245.0,858.5 1261.0,869.5 1277.0,875.5 1293.0,855.5 1309.0,854.5 1325.0,848.5 1341.0,850.5 1357.0,850.5 1373.0,858.5 1389.0,849.5 1405.0,849.5 1421.0,849.5" fill="none" stroke="#1E90FF" stroke-width="1" shape-rendering="crispEdges"/><g font-family="Liberation Sans, sans-serif" font-size="9" fill="#000"><text x="1.3" y="780.5" font-size="9.4" fill="#000" stroke="#000" stroke-width="0.18" textLength="67.5" lengthAdjust="spacingAndGlyphs">RSI(14) 49.4093</text><text transform="translate(1627.3,779) scale(0.957,1)" font-size="9.4" fill="#000" stroke="#000" stroke-width="0.18" >100</text><text transform="translate(1627.3,804.8) scale(0.957,1)" font-size="9.4" fill="#000" stroke="#000" stroke-width="0.18" >80</text><text transform="translate(1627.3,851.8) scale(0.957,1)" font-size="9.4" fill="#000" stroke="#000" stroke-width="0.18" >50</text><text transform="translate(1627.3,907.8) scale(0.957,1)" font-size="9.4" fill="#000" stroke="#000" stroke-width="0.18" >15</text><text transform="translate(1627.3,925.3) scale(0.957,1)" font-size="9.4" fill="#000" stroke="#000" stroke-width="0.18" >0</text><rect x="-3" y="929" width="1" height="3" fill="#000" shape-rendering="crispEdges"/><text transform="translate(-3.5,941.1) scale(0.989,1)" font-size="9.4" fill="#000" stroke="#000" stroke-width="0.18" >11 Apr 2019</text><rect x="61" y="929" width="1" height="3" fill="#000" shape-rendering="crispEdges"/><text transform="translate(60.5,941.1) scale(0.989,1)" font-size="9.4" fill="#000" stroke="#000" stroke-width="0.18" >12 Apr 00:00</text><rect x="125" y="929" width="1" height="3" fill="#000" shape-rendering="crispEdges"/><text transform="translate(124.5,941.1) scale(0.989,1)" font-size="9.4" fill="#000" stroke="#000" stroke-width="0.18" >12 Apr 16:00</text><rect x="189" y="929" width="1" height="3" fill="#000" shape-rendering="crispEdges"/><text transform="translate(188.5,941.1) scale(0.989,1)" font-size="9.4" fill="#000" stroke="#000" stroke-width="0.18" >15 Apr 08:00</text><rect x="253" y="929" width="1" height="3" fill="#000" shape-rendering="crispEdges"/><text transform="translate(252.5,941.1) scale(0.989,1)" font-size="9.4" fill="#000" stroke="#000" stroke-width="0.18" >16 Apr 00:00</text><rect x="317" y="929" width="1" height="3" fill="#000" shape-rendering="crispEdges"/><text transform="translate(316.5,941.1) scale(0.989,1)" font-size="9.4" fill="#000" stroke="#000" stroke-width="0.18" >16 Apr 16:00</text><rect x="381" y="929" width="1" height="3" fill="#000" shape-rendering="crispEdges"/><text transform="translate(380.5,941.1) scale(0.989,1)" font-size="9.4" fill="#000" stroke="#000" stroke-width="0.18" >17 Apr 08:00</text><rect x="445" y="929" width="1" height="3" fill="#000" shape-rendering="crispEdges"/><text transform="translate(444.5,941.1) scale(0.989,1)" font-size="9.4" fill="#000" stroke="#000" stroke-width="0.18" >18 Apr 00:00</text><rect x="509" y="929" width="1" height="3" fill="#000" shape-rendering="crispEdges"/><text transform="translate(508.5,941.1) scale(0.989,1)" font-size="9.4" fill="#000" stroke="#000" stroke-width="0.18" >18 Apr 16:00</text><rect x="573" y="929" width="1" height="3" fill="#000" shape-rendering="crispEdges"/><text transform="translate(572.5,941.1) scale(0.989,1)" font-size="9.4" fill="#000" stroke="#000" stroke-width="0.18" >22 Apr 04:00</text><rect x="637" y="929" width="1" height="3" fill="#000" shape-rendering="crispEdges"/><text transform="translate(636.5,941.1) scale(0.989,1)" font-size="9.4" fill="#000" stroke="#000" stroke-width="0.18" >22 Apr 20:00</text><rect x="701" y="929" width="1" height="3" fill="#000" shape-rendering="crispEdges"/><text transform="translate(700.5,941.1) scale(0.989,1)" font-size="9.4" fill="#000" stroke="#000" stroke-width="0.18" >23 Apr 12:00</text><rect x="765" y="929" width="1" height="3" fill="#000" shape-rendering="crispEdges"/><text transform="translate(764.5,941.1) scale(0.989,1)" font-size="9.4" fill="#000" stroke="#000" stroke-width="0.18" >24 Apr 04:00</text><rect x="829" y="929" width="1" height="3" fill="#000" shape-rendering="crispEdges"/><text transform="translate(828.5,941.1) scale(0.989,1)" font-size="9.4" fill="#000" stroke="#000" stroke-width="0.18" >24 Apr 20:00</text><rect x="893" y="929" width="1" height="3" fill="#000" shape-rendering="crispEdges"/><text transform="translate(892.5,941.1) scale(0.989,1)" font-size="9.4" fill="#000" stroke="#000" stroke-width="0.18" >25 Apr 12:00</text><rect x="957" y="929" width="1" height="3" fill="#000" shape-rendering="crispEdges"/><text transform="translate(956.5,941.1) scale(0.989,1)" font-size="9.4" fill="#000" stroke="#000" stroke-width="0.18" >26 Apr 04:00</text><rect x="1021" y="929" width="1" height="3" fill="#000" shape-rendering="crispEdges"/><text transform="translate(1020.5,941.1) scale(0.989,1)" font-size="9.4" fill="#000" stroke="#000" stroke-width="0.18" >28 Apr 23:00</text><rect x="1085" y="929" width="1" height="3" fill="#000" shape-rendering="crispEdges"/><text transform="translate(1084.5,941.1) scale(0.989,1)" font-size="9.4" fill="#000" stroke="#000" stroke-width="0.18" >29 Apr 12:00</text><rect x="1149" y="929" width="1" height="3" fill="#000" shape-rendering="crispEdges"/><text transform="translate(1148.5,941.1) scale(0.989,1)" font-size="9.4" fill="#000" stroke="#000" stroke-width="0.18" >30 Apr 04:00</text><rect x="1213" y="929" width="1" height="3" fill="#000" shape-rendering="crispEdges"/><text transform="translate(1212.5,941.1) scale(0.989,1)" font-size="9.4" fill="#000" stroke="#000" stroke-width="0.18" >30 Apr 20:00</text><rect x="1277" y="929" width="1" height="3" fill="#000" shape-rendering="crispEdges"/><text transform="translate(1276.5,941.1) scale(0.989,1)" font-size="9.4" fill="#000" stroke="#000" stroke-width="0.18" >1 May 12:00</text><rect x="1341" y="929" width="1" height="3" fill="#000" shape-rendering="crispEdges"/><text transform="translate(1340.5,941.1) scale(0.989,1)" font-size="9.4" fill="#000" stroke="#000" stroke-width="0.18" >2 May 04:00</text><rect x="1405" y="929" width="1" height="3" fill="#000" shape-rendering="crispEdges"/><text transform="translate(1404.5,941.1) scale(0.989,1)" font-size="9.4" fill="#000" stroke="#000" stroke-width="0.18" >2 May 20:00</text></g></g>
<g id="panel">
<defs>
<linearGradient id="gb" x1="0" y1="0" x2="0" y2="1"><stop offset="0" stop-color="#F24E4E"/><stop offset="1" stop-color="#D92A2A"/></linearGradient>
<linearGradient id="gp" x1="0" y1="0" x2="0" y2="1"><stop offset="0" stop-color="#D92A2A"/><stop offset="1" stop-color="#A60000"/></linearGradient>
</defs>
<rect x="0" y="48" width="52" height="25" fill="url(#gb)"/>
<rect x="167" y="48" width="52" height="25" fill="url(#gb)"/>
<rect x="0" y="72.5" width="108.7" height="39" fill="url(#gp)"/>
<rect x="111.2" y="72.5" width="107.8" height="39" fill="url(#gp)"/>
<rect x="4" y="72" width="44" height="1" fill="#F08A8A"/>
<rect x="171" y="72" width="44" height="1" fill="#F08A8A"/>
<rect x="54.5" y="48.5" width="110" height="21" fill="#FFFFFF" stroke="#ABABAB" stroke-width="1"/>
<rect x="55" y="49" width="20" height="20" fill="#E6E6E6"/>
<rect x="143.5" y="49" width="21" height="20" fill="#E6E6E6"/>
<rect x="75" y="49" width="1" height="20" fill="#ABABAB"/>
<rect x="143" y="49" width="1" height="20" fill="#ABABAB"/>
<polygon points="62,57 67,57 64.5,60" fill="#000"/>
<polygon points="151,60 156,60 153.5,57" fill="#000"/>
<g font-family="Liberation Sans, sans-serif" fill="#fff">
<text x="117" y="63" font-size="11" fill="#000">1.00</text>
<text x="12.4" y="63.4" font-size="10.5">SELL</text>
<text x="180.6" y="63.4" font-size="11">BUY</text>
<text x="23.5" y="102.7" font-size="12.3" font-weight="bold">111</text>
<text x="133.3" y="102.7" font-size="12.3" font-weight="bold">111</text>
<text x="87.2" y="86.3" font-size="12" font-weight="bold">2</text>
<text x="197.6" y="86.3" font-size="12" font-weight="bold">0</text>
<text transform="translate(48.2,103) scale(0.925,1)" font-size="33.5">50</text>
<text transform="translate(158.4,103) scale(0.925,1)" font-size="33.5">52</text>
</g>
</g>

<g id="toolbar-bg">
<rect x="0" y="0" width="1671" height="23" fill="#F0F0F0"/>
<rect x="0" y="23" width="1671" height="1" fill="#E0E0E0"/>
<rect x="0" y="24" width="1671" height="1" fill="#A0A0A0"/>
<rect x="0" y="25" width="1671" height="1" fill="#696969"/>
<rect x="0" y="26" width="1671" height="2" fill="#FFFFFF"/>
</g>

<g id="icons">
<defs>
<pattern id="chk" width="2" height="2" patternUnits="userSpaceOnUse"><rect width="2" height="2" fill="#F7F7F7"/><rect width="1" height="1" fill="#EDEDED"/><rect x="1" y="1" width="1" height="1" fill="#EDEDED"/></pattern>
<linearGradient id="gplus" x1="0" y1="0" x2="0" y2="1"><stop offset="0" stop-color="#5BE85B"/><stop offset="1" stop-color="#12B012"/></linearGradient>
<linearGradient id="ggold" x1="0" y1="0" x2="1" y2="1"><stop offset="0" stop-color="#F6D650"/><stop offset="1" stop-color="#C48A10"/></linearGradient>
<linearGradient id="gchat" x1="0" y1="0" x2="0" y2="1"><stop offset="0" stop-color="#FFFFFF"/><stop offset="1" stop-color="#CDCDD6"/></linearGradient>
<linearGradient id="ggold2" x1="0.3" y1="0" x2="0.6" y2="1"><stop offset="0" stop-color="#FCE670"/><stop offset="0.5" stop-color="#F0C232"/><stop offset="1" stop-color="#D39A18"/></linearGradient>
<radialGradient id="gsig" cx="126.1" cy="12" r="8" gradientUnits="userSpaceOnUse"><stop offset="0" stop-color="#C4E8C4"/><stop offset="1" stop-color="#4FB04F"/></radialGradient>
<linearGradient id="gclk" x1="0" y1="0" x2="0" y2="1"><stop offset="0" stop-color="#3A9AF0"/><stop offset="1" stop-color="#0A50B0"/></linearGradient>
<radialGradient id="glens" cx="0.4" cy="0.35" r="0.7"><stop offset="0" stop-color="#FFFFFF"/><stop offset="1" stop-color="#BFE0F8"/></radialGradient>
<g id="sep"><rect x="0" y="1" width="1" height="21" fill="#A0A0A0"/></g>
<g id="sep2"><rect x="0" y="0" width="1" height="24" fill="#A0A0A0"/><rect x="1" y="0" width="1" height="24" fill="#FFFFFF"/></g>
<g id="grip" fill="#A8A8A8"><rect x="0" y="2" width="3" height="1"/><rect x="0" y="4" width="3" height="1"/><rect x="0" y="6" width="3" height="1"/><rect x="0" y="8" width="3" height="1"/><rect x="0" y="10" width="3" height="1"/><rect x="0" y="12" width="3" height="1"/><rect x="0" y="14" width="3" height="1"/><rect x="0" y="16" width="3" height="1"/><rect x="0" y="18" width="3" height="1"/><rect x="0" y="20" width="3" height="1"/></g>
<g id="axes" stroke="#555" stroke-width="1.2" fill="none"><path d="M2.5,6.3V19.8M0.2,17.6H13.2"/><path d="M0.9,8.2L2.5,6.2L4.1,8.2M11.6,16L13.6,17.6L11.6,19.2" stroke-width="1"/></g>
<g id="dd"><polygon points="0,0 5.4,0 2.7,3" fill="#000"/></g>
</defs>

<!-- new order icon -->
<path d="M-4,4.5H4L6.5,7V12.5H-4Z" fill="#fff" stroke="#999" stroke-width="0.8"/>
<path d="M4,4.5V7H6.5" fill="#ddd" stroke="#999" stroke-width="0.6"/>
<rect x="0" y="10" width="4" height="1" fill="#bbb"/>
<path d="M3.2,11H7.2V14H10.6V18H7.2V21.4H3.2V18H-0.4V14H3.2Z" fill="url(#gplus)" stroke="#0A8A0A" stroke-width="0.8"/>

<!-- book/diamond -->
<path d="M62,14.2L69.8,21L78.2,13.6L78.2,12.6L69.8,19.4L62,13Z" fill="#9A5E0C"/>
<path d="M67.2,4.8L78.2,12.7L69.9,19.9L61.9,13.3Q64.5,10 67.2,4.8Z" fill="url(#ggold2)" stroke="#B9800F" stroke-width="0.6"/>
<path d="M63.4,13.6L69.9,19L77,12.9" stroke="#E9C766" stroke-width="0.7" fill="none"/>
<path d="M67.5,6.4Q66,9.5 64.2,12" stroke="#FFF3B0" stroke-width="0.9" fill="none"/>
<!-- server + cloud -->
<path d="M92.2,5.6L95,4.2H102.5V13.5H92.2Z" fill="#1E90FF"/>
<path d="M92.2,5.6L94.2,6.4V14H92.2Z" fill="#0F6AD8"/>
<rect x="95" y="6" width="6.8" height="6.5" fill="#EAF4FF"/>
<rect x="96.5" y="7.2" width="4" height="1.2" fill="#3A8AE8"/>
<path d="M93,19.8C90,19.8 89.6,16 92.6,15.4C92.8,13 96.2,12.4 97.4,14.2C99.2,12.2 102.6,13.2 102.6,15.4C106,15.2 106.4,19.8 103.4,19.8Z" fill="#D8E4F4" stroke="#5A86D0" stroke-width="0.8"/>

<!-- signal -->
<path d="M126.1,12L131.3,6.2A7.8,7.8 0 0 1 126.1,19.8Z" fill="url(#gsig)"/>
<g fill="none">
<circle cx="126.1" cy="12" r="7.4" stroke-width="1.1" stroke="#9FB4E6" opacity="0.8"/>
<circle cx="126.1" cy="12" r="5.2" stroke-width="1.1" stroke="#7F9CE2" opacity="0.85"/>
<circle cx="126.1" cy="12" r="3" stroke-width="1.1" stroke="#5E82DA"/>
</g>
<path d="M126.1,12V19.9" stroke="#18A018" stroke-width="1.5"/>
<circle cx="126.1" cy="12" r="1.7" fill="#2255CC"/>
<!-- auto trading -->
<path d="M145.6,11L161,11L156,17L151.8,19.6Z" fill="#F2D448" stroke="#C8A020" stroke-width="0.6"/>
<ellipse cx="153.1" cy="9.2" rx="7.8" ry="2.6" fill="#4FA6DC"/>
<path d="M149.3,8.6C149.3,3.4 157,3.4 157,8.6Z" fill="#6FC0EA"/>
<ellipse cx="153.1" cy="9.4" rx="7.8" ry="2.2" fill="none" stroke="#2E7EB8" stroke-width="0.6"/>
<circle cx="157.5" cy="15.8" r="4.2" fill="#D81E10"/>
<rect x="156" y="14.3" width="3" height="3" fill="#fff"/>

<use href="#sep2" x="221" y="0"/>
<use href="#grip" x="225" y="0"/>

<!-- bar chart icon -->
<use href="#axes" x="237" y="0"/>
<path d="M245.5,7V15.8M245.5,8.4H248M243.1,14.4H245.5" stroke="#1A9A1A" stroke-width="1.3" fill="none"/>

<!-- candle (selected) -->
<rect x="259" y="0" width="25" height="22" fill="url(#chk)"/>
<rect x="259" y="0" width="25" height="1" fill="#A0A0A0"/><rect x="259" y="0" width="1" height="22" fill="#A0A0A0"/>
<rect x="260" y="21" width="24" height="1" fill="#fff"/><rect x="283" y="1" width="1" height="21" fill="#fff"/>
<use href="#axes" x="265" y="0"/>
<path d="M273.5,4.2V15.8" stroke="#10A010" stroke-width="1.2"/>
<rect x="271.4" y="6.2" width="4.2" height="7.4" fill="#7CF27C" stroke="#10A010" stroke-width="1"/>

<!-- line chart -->
<use href="#axes" x="293" y="0"/>
<path d="M294.1,14.7C297,12.5 298.5,9 300.3,9C302,9 303.5,12 305.6,13" stroke="#2A9A2A" stroke-width="1.2" fill="none"/>

<use href="#sep" x="316" y="0"/>

<!-- zoom in -->
<path d="M334.9,14.3L340,18.9" stroke="#B89018" stroke-width="3.2" stroke-linecap="butt"/>
<path d="M335.2,14L340.3,18.6" stroke="#E8C838" stroke-width="1.6"/>
<circle cx="331.1" cy="10" r="5.6" fill="url(#glens)" stroke="#3A7AD0" stroke-width="1.2"/>
<path d="M328,10H334.2M331.1,6.9V13.1" stroke="#3A80B0" stroke-width="1.7"/>
<!-- zoom out -->
<path d="M362.8,14.3L367.9,18.9" stroke="#B89018" stroke-width="3.2"/>
<path d="M363.1,14L368.2,18.6" stroke="#E8C838" stroke-width="1.6"/>
<circle cx="359" cy="10" r="5.6" fill="url(#glens)" stroke="#3A7AD0" stroke-width="1.2"/>
<path d="M355.9,10H362.1" stroke="#3A80B0" stroke-width="1.7"/>

<!-- tile -->
<rect x="381" y="4" width="8" height="8" fill="#3CA01C"/><rect x="389" y="4" width="8" height="8" fill="#2050D0"/>
<rect x="381" y="12" width="8" height="8" fill="#2050D0"/><rect x="389" y="12" width="8" height="8" fill="#3CA01C"/>
<g fill="#fff"><path d="M382,7.5H388V11H386.8V10H383.2V11H382Z"/><path d="M390,7.5H396V11H394.8V10H391.2V11H390Z"/><path d="M382,15.5H388V19H386.8V18H383.2V19H382Z"/><path d="M390,15.5H396V19H394.8V18H391.2V19H390Z"/>
<rect x="382" y="5" width="1" height="1"/><rect x="390" y="5" width="1" height="1"/><rect x="382" y="13" width="1" height="1"/><rect x="390" y="13" width="1" height="1"/></g>
<g><rect x="383" y="8.4" width="4" height="0.8" fill="#8CD070"/><rect x="391" y="8.4" width="1.5" height="0.8" fill="#7090E8"/><rect x="393.5" y="8.4" width="1.5" height="0.8" fill="#7090E8"/><rect x="383" y="16.4" width="1.5" height="0.8" fill="#7090E8"/><rect x="385.5" y="16.4" width="1.5" height="0.8" fill="#7090E8"/><rect x="391" y="16.4" width="4" height="0.8" fill="#8CD070"/></g>

<use href="#sep" x="406" y="0"/>

<!-- autoscroll (selected) -->
<rect x="411" y="0" width="25" height="22" fill="url(#chk)"/>
<rect x="411" y="0" width="25" height="1" fill="#A0A0A0"/><rect x="411" y="0" width="1" height="22" fill="#A0A0A0"/>
<rect x="412" y="21" width="24" height="1" fill="#fff"/><rect x="435" y="1" width="1" height="21" fill="#fff"/>
<use href="#axes" x="417" y="0"/>
<path d="M424.3,8.2V14.8L427.8,11.5Z" fill="#7CE87C" stroke="#18A018" stroke-width="1"/>

<!-- chart shift (selected) -->
<rect x="439" y="0" width="25" height="22" fill="url(#chk)"/>
<rect x="439" y="0" width="25" height="1" fill="#A0A0A0"/><rect x="439" y="0" width="1" height="22" fill="#A0A0A0"/>
<rect x="440" y="21" width="24" height="1" fill="#fff"/><rect x="463" y="1" width="1" height="21" fill="#fff"/>
<use href="#axes" x="445" y="0"/>
<path d="M453.6,6V15.8" stroke="#1E6EB0" stroke-width="1.3"/>
<path d="M455,11.5H459" stroke="#D84808" stroke-width="1.2"/>
<path d="M454.6,11.5L457.4,9.3V13.7Z" fill="#D84808"/>

<use href="#sep" x="468" y="0"/>

<!-- indicators -->
<path d="M478.5,4.6H486.5L489.6,7.6V17.6H478.5Z" fill="#fff" stroke="#999" stroke-width="0.8"/>
<path d="M486.5,4.6V7.6H489.6" fill="#e4e4e4" stroke="#999" stroke-width="0.6"/>
<path d="M483.6,7.4C482,7 481.6,8 481.6,9V15M480.4,10.6H483.2" stroke="#555" stroke-width="0.9" fill="none"/>
<path d="M485.9,10.2H489.9V13.9H493.6V17.9H489.9V21.6H485.9V17.9H482.2V13.9H485.9Z" fill="url(#gplus)" stroke="#0A8A0A" stroke-width="0.8"/>
<use href="#dd" x="499.8" y="11"/>

<!-- clock -->
<circle cx="524" cy="12" r="6.8" fill="#EEF1F6" stroke="url(#gclk)" stroke-width="2.6"/>
<circle cx="524" cy="12" r="5.2" fill="none" stroke="#C8D0DC" stroke-width="0.5"/>
<path d="M523.8,8V12.2H527" stroke="#222" stroke-width="1.1" fill="none"/>
<path d="M524,12.5L526.5,14" stroke="#6AA0E0" stroke-width="0.6"/>
<use href="#dd" x="538.8" y="11"/>

<!-- template -->
<rect x="555.4" y="5.4" width="15.2" height="13.4" fill="#fff" stroke="#3A78C8" stroke-width="1"/>
<rect x="555.9" y="5.9" width="14.2" height="2" fill="#5A9AE8"/>
<rect x="556" y="13" width="14" height="0.8" fill="#3A78C8"/>
<path d="M557.2,11.4H559.4L561.4,9.8H563.2L564.6,10.6H566.4L568,9.4H569" stroke="#A03010" stroke-width="1.1" fill="none"/>
<path d="M557.8,16.6H559.6L560.8,15.6L562.6,16.6L565.6,14.4L568.4,16.6" stroke="#109030" stroke-width="1.1" fill="none"/>
<use href="#dd" x="577.7" y="11"/>

<use href="#sep2" x="589" y="0"/>
<use href="#grip" x="593" y="0"/>

<!-- cursor (selected) -->
<rect x="599" y="0" width="25" height="22" fill="url(#chk)"/>
<rect x="599" y="0" width="25" height="1" fill="#A0A0A0"/><rect x="599" y="0" width="1" height="22" fill="#A0A0A0"/>
<rect x="600" y="21" width="24" height="1" fill="#fff"/><rect x="623" y="1" width="1" height="21" fill="#fff"/>
<path d="M607,5V16.2L609.7,13.8L612.3,19.2L614.2,18.2L611.7,13.1L615.2,12.5Z" fill="#4A4A4A"/>

<!-- crosshair -->
<path d="M632,12.4H638.2M640.6,12.4H647M639.4,5V11.2M639.4,13.6V20" stroke="#404040" stroke-width="1.2" fill="none"/>
<rect x="639" y="12" width="0.8" height="0.8" fill="#404040"/>

<use href="#sep" x="656" y="0"/>

<!-- vline, hline, trendline -->
<path d="M673.5,6V19" stroke="#404040" stroke-width="1.4"/>
<path d="M696,12.4H707.8" stroke="#404040" stroke-width="1.4"/>
<path d="M723.7,18.9L736.1,6.6" stroke="#404040" stroke-width="1.3"/>

<!-- channel -->
<g stroke="#404040" stroke-width="1" fill="none">
<path d="M749.8,13.4L757.9,6.4M754.9,18.8L764.3,10"/>
<path d="M751.5,16.5L753.5,9.5L756,15L758.5,7.5L760.5,12L762,4.5L762.8,11" stroke-width="0.9"/>
</g>
<text x="760.7" y="20.8" font-size="6.6" font-weight="bold" fill="#333" font-family="Liberation Sans, sans-serif">E</text>

<!-- fibo -->
<g stroke="#303030" stroke-width="1.1" stroke-dasharray="1,1" fill="none">
<path d="M779,5.2H792.2M779,8.4H792.2M779,12.4H792.2M779,16.4H788.2"/>
</g>
<text x="789" y="20.8" font-size="6.6" font-weight="bold" fill="#333" font-family="Liberation Sans, sans-serif">F</text>

<!-- A -->
<text x="809.5" y="17.1" font-size="12.6" fill="#404040" font-family="Liberation Sans, sans-serif">A</text>

<!-- T label -->
<rect x="836.4" y="6.8" width="11" height="11.8" fill="none" stroke="#303030" stroke-width="1.1" stroke-dasharray="1,1"/>
<rect x="835.2" y="5.6" width="1.6" height="1.2" fill="#404040"/>
<text x="838.4" y="16.8" font-size="10.6" font-weight="bold" fill="#505050" font-family="Liberation Sans, sans-serif">T</text>

<!-- arrows -->
<path d="M866.5,5.8L870,9.6L866.5,10.8L863,9.6Z" fill="#505050"/>
<path d="M865.4,13.6L867.6,15.7L871.9,10.4" stroke="#404040" stroke-width="1.2" fill="none"/>
<path d="M873.6,18.9L870.2,15.2L873.6,14L877,15.2Z" fill="#505050"/>
<use href="#dd" x="883.8" y="11"/>

<use href="#sep2" x="895" y="0"/>
<use href="#grip" x="899" y="0"/>

<!-- H4 selected -->
<rect x="1045" y="0" width="25" height="22" fill="url(#chk)"/>
<rect x="1045" y="0" width="25" height="1" fill="#A0A0A0"/><rect x="1045" y="0" width="1" height="22" fill="#A0A0A0"/>
<rect x="1046" y="21" width="24" height="1" fill="#fff"/><rect x="1069" y="1" width="1" height="21" fill="#fff"/>

<rect x="1156" y="0" width="1" height="24" fill="#A0A0A0"/>

<!-- search -->
<path d="M1618.6,17.2L1623.2,12.6" stroke="#2B5FD0" stroke-width="2.4" stroke-linecap="round"/>
<circle cx="1626.5" cy="9.4" r="3.9" fill="#F4F6FA" stroke="#2B5FD0" stroke-width="1.2"/>

<!-- chat -->
<ellipse cx="1659.2" cy="9.6" rx="6.6" ry="5.2" fill="url(#gchat)" stroke="#A6A6AE" stroke-width="0.8"/>
<path d="M1661,14.4L1662.4,16.2L1663.4,13.8Z" fill="#8C8C94"/>
<ellipse cx="1650" cy="14" rx="4.8" ry="3.6" fill="url(#gchat)" stroke="#9A9AA2" stroke-width="0.8"/>
<path d="M1646.6,16.8L1647.2,18.9L1649.4,17.4Z" fill="#8C8C94"/>
</g>

<g id="toolbar-text">
<g font-family="Liberation Sans, Noto Sans CJK SC, sans-serif" font-size="12.3" fill="#000" font-weight="500">
<text x="13.6" y="15.2">新订单</text>
<text x="166.3" y="15.3" textLength="47.6">自动交易</text>
</g>
<g font-family="Liberation Sans, sans-serif" font-size="9.2" fill="#222">
<text x="910.7" y="15.8">M1</text>
<text x="938.7" y="15.8">M5</text>
<text x="964.9" y="15.8">M15</text>
<text x="992.6" y="15.8">M30</text>
<text x="1023.8" y="15.8">H1</text>
<text x="1050.6" y="15.8">H4</text>
<text x="1079.6" y="15.8">D1</text>
<text x="1107.2" y="15.8">W1</text>
<text x="1133.6" y="15.8">MN</text>
</g>
</g>

<rect x="1670" y="26" width="1" height="924" fill="#D4D4D4"/>
<rect x="0" y="948.5" width="1671" height="1.5" fill="#F0F0F0"/>
</svg>
</body></html>
